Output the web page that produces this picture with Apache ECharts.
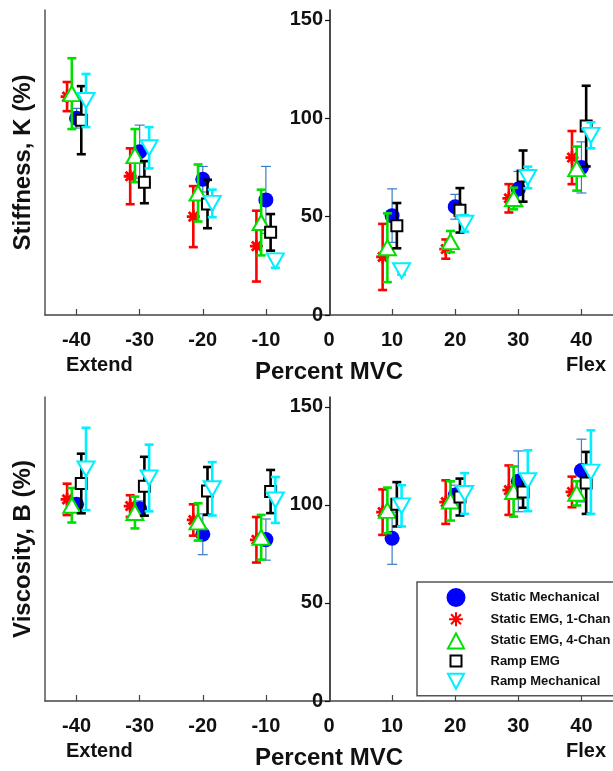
<!DOCTYPE html>
<html>
<head>
<meta charset="utf-8">
<script src="https://cdn.jsdelivr.net/npm/echarts@6/dist/echarts.min.js"></script>
<style>
  html, body { margin: 0; padding: 0; background: #fff; }
  #chart { width: 613px; height: 771px; }
</style>
</head>
<body>
<div id="chart"></div>
<script>
// Contraction levels (percent of maximum voluntary contraction)
const mvc = [-40, -30, -20, -10, 10, 20, 30, 40];
const xTickLabels = [-40, -30, -20, -10, 0, 10, 20, 30, 40];
const yTickLabels = [0, 50, 100, 150];
const seriesNames = ['Static Mechanical', 'Static EMG, 1-Chan', 'Static EMG, 4-Chan', 'Ramp EMG', 'Ramp Mechanical'];

// Stiffness K (%) — means and error half-widths
const stiffStaticMech      = [100, 83, 69, 58.5, 50.5, 55, 64, 75];
const stiffStaticMechErr   = [5, 13.5, 6.5, 17, 13.6, 6.3, 9, 13];
const stiffEmg1            = [111, 70.5, 50, 35, 29.5, 33.5, 59.3, 80];
const stiffEmg1Err         = [7.4, 14.2, 15.5, 18, 16.8, 4.9, 7.2, 13.5];
const stiffEmg4            = [112.5, 81, 62, 47, 34.2, 37.3, 59.2, 74.4];
const stiffEmg4Err         = [18, 13.5, 14.5, 16.7, 17.5, 5.4, 5.5, 11.2];
const stiffRampEmg         = [99, 67.5, 56.4, 42, 45.4, 53.2, 70.6, 96];
const stiffRampEmgErr      = [17.3, 10.7, 12.3, 9.3, 11.5, 11.3, 13, 20.5];
const stiffRampMech        = [109, 85, 56.7, 27.5, 22.5, 46.6, 69.9, 91.3];
const stiffRampMechErr     = [13.5, 10.5, 7, 3.5, 2, 4.2, 5.5, 6.6];

// Viscosity B (%) — means and error half-widths
const viscStaticMech       = [100.3, 98, 85, 82.3, 83, 105, 112, 117.5];
const viscStaticMechErr    = [3, 4, 10.4, 10.5, 13.3, 5, 15.5, 16];
const viscEmg1             = [102.8, 99.4, 92.3, 82.2, 96.3, 101.4, 107.5, 106.6];
const viscEmg1Err          = [8, 5.5, 8, 11.6, 11.6, 11.1, 12.6, 7.8];
const viscEmg4             = [99.8, 96.1, 91.3, 83.5, 97.2, 102, 106.8, 105.9];
const viscEmg4Err          = [8.8, 8.1, 9.5, 11.4, 11.6, 10, 12.8, 6.2];
const viscRampEmg          = [110.9, 109.5, 107.1, 106.8, 100.3, 104, 106.5, 111.2];
const viscRampEmgErr       = [15.2, 15, 12.2, 11, 11.3, 9.4, 8, 15.8];
const viscRampMech         = [118.3, 113.7, 108.2, 102.5, 99.5, 105.8, 112.3, 116.7];
const viscRampMechErr      = [21, 17, 13.6, 11.7, 10.5, 10.4, 15.5, 21.3];

const stiffness = [
  [stiffStaticMech, stiffStaticMechErr], [stiffEmg1, stiffEmg1Err], [stiffEmg4, stiffEmg4Err],
  [stiffRampEmg, stiffRampEmgErr], [stiffRampMech, stiffRampMechErr]
];
const viscosity = [
  [viscStaticMech, viscStaticMechErr], [viscEmg1, viscEmg1Err], [viscEmg4, viscEmg4Err],
  [viscRampEmg, viscRampEmgErr], [viscRampMech, viscRampMechErr]
];

// Per-series drawing style; dodge is a small horizontal shift in x units
const FONT = 'Liberation Sans, Arial, Helvetica, sans-serif';
const ASTERISK = 'path://M5 0L5 10M0 5L10 5M1.5 1.5L8.5 8.5M1.5 8.5L8.5 1.5';
const DOWN_TRIANGLE = 'path://M0 0L10 0L5 9Z';
const styles = [
  { dodge: 0,     symbol: 'circle', size: 15, fill: '#0000ff', stroke: '#0000ff', bw: 0,
    errColor: '#3a7dc4', errWidth: 1.2, cap: 10,
    icon: 'circle' },
  { dodge: -1.5,  symbol: ASTERISK, size: 13, fill: 'none', stroke: '#ff0000', bw: 2.8,
    errColor: '#ff0000', errWidth: 2.6, cap: 9,
    icon: 'path://M0 0M17 17M8.5 1.5L8.5 15.5M1.5 8.5L15.5 8.5M3.5 3.5L13.5 13.5M3.5 13.5L13.5 3.5' },
  { dodge: -0.75, symbol: 'triangle', size: [17, 15], fill: '#ffffff', stroke: '#00e000', bw: 2,
    errColor: '#00e000', errWidth: 2.6, cap: 9,
    icon: 'path://M0 0M17 17M8.5 1L16.5 16L0.5 16Z' },
  { dodge: 0.75,  symbol: 'rect', size: 11, fill: '#ffffff', stroke: '#000000', bw: 2,
    errColor: '#000000', errWidth: 2.6, cap: 9,
    icon: 'path://M0 0M17 17M3 3L14 3L14 14L3 14Z' },
  { dodge: 1.5,   symbol: DOWN_TRIANGLE, size: [17, 15], fill: '#ffffff', stroke: '#00f0ff', bw: 2,
    errColor: '#00f0ff', errWidth: 2.6, cap: 9,
    icon: 'path://M0 0M17 17M0.5 1L16.5 1L8.5 16Z' }
];

function errorBars(gridIdx, yIdx, means, errs, st, k) {
  return {
    type: 'custom',
    name: seriesNames[k] + ' (error)',
    xAxisIndex: gridIdx,
    yAxisIndex: yIdx,
    silent: true,
    z: 2 + k * 2,
    data: mvc.map((x, i) => [x + st.dodge, means[i] - errs[i], means[i] + errs[i]]),
    encode: { x: 0, y: [1, 2] },
    renderItem: function (params, api) {
      const x = api.value(0);
      const lo = api.coord([x, api.value(1)]);
      const hi = api.coord([x, api.value(2)]);
      const h = st.cap / 2;
      const s = { stroke: st.errColor, lineWidth: st.errWidth };
      return {
        type: 'group',
        children: [
          { type: 'line', shape: { x1: lo[0], y1: lo[1], x2: hi[0], y2: hi[1] }, style: s },
          { type: 'line', shape: { x1: lo[0] - h, y1: lo[1], x2: lo[0] + h, y2: lo[1] }, style: s },
          { type: 'line', shape: { x1: hi[0] - h, y1: hi[1], x2: hi[0] + h, y2: hi[1] }, style: s }
        ]
      };
    }
  };
}

function markers(gridIdx, yIdx, means, st, k) {
  return {
    type: 'scatter',
    name: seriesNames[k],
    xAxisIndex: gridIdx,
    yAxisIndex: yIdx,
    z: 3 + k * 2,
    symbol: st.symbol,
    symbolSize: st.size,
    symbolKeepAspect: false,
    itemStyle: { color: st.fill, borderColor: st.stroke, borderWidth: st.bw, opacity: 1 },
    emphasis: { disabled: true },
    data: mvc.map((x, i) => [x + st.dodge, means[i]])
  };
}

const series = [];
[stiffness, viscosity].forEach((panel, g) => {
  panel.forEach(([m, e], k) => {
    series.push(errorBars(g, g * 2, m, e, styles[k], k));
    series.push(markers(g, g * 2, m, styles[k], k));
  });
});

const grids = [
  { left: 45, right: -2, top: 10, height: 305 },
  { left: 45, right: -2, top: 397, height: 306 }
];
// x = 0 sits 285 px right of the grid's left edge (570 px span for -45..45)
const CENTRE_SHIFT = -285;

const xAxes = grids.map((_, g) => ({
  type: 'value', gridIndex: g, min: -45, max: 45,
  name: 'Percent MVC', nameLocation: 'middle', nameGap: 45,
  nameTextStyle: { fontFamily: FONT, fontWeight: 'bold', fontSize: 24, color: '#111' },
  axisLine: { onZero: false, lineStyle: { color: '#444', width: 1.5 } },
  axisTick: { inside: true, length: 6, customValues: mvc, lineStyle: { color: '#444', width: 1.2 } },
  axisLabel: { customValues: xTickLabels, margin: 15, fontFamily: FONT, fontWeight: 'bold', fontSize: 20, color: '#111' },
  splitLine: { show: false }
}));

const yTitles = ['Stiffness, K (%)', 'Viscosity, B (%)'];
const yAxes = [];
grids.forEach((_, g) => {
  // value axis drawn through x = 0
  yAxes.push({
    type: 'value', gridIndex: g, min: 0, max: 155, position: 'left', offset: CENTRE_SHIFT,
    axisLine: { show: true, onZero: false, lineStyle: { color: '#111', width: 1.5 } },
    axisTick: { show: true, length: 5, customValues: yTickLabels, lineStyle: { color: '#111', width: 1.2 } },
    axisLabel: { customValues: yTickLabels, margin: 7, fontFamily: FONT, fontWeight: 'bold', fontSize: 20, color: '#111' },
    splitLine: { show: false }
  });
  // left frame line carrying the axis title
  yAxes.push({
    type: 'value', gridIndex: g, min: 0, max: 155, position: 'left',
    name: yTitles[g], nameLocation: 'middle', nameGap: 10, nameRotate: 90,
    nameTextStyle: { fontFamily: FONT, fontWeight: 'bold', fontSize: 24, color: '#111' },
    axisLine: { show: true, onZero: false, lineStyle: { color: '#555', width: 1.5 } },
    axisTick: { show: false }, axisLabel: { show: false }, splitLine: { show: false }
  });
});

const sideLabel = (text, x, y, align) => ({
  type: 'text', x: x, y: y,
  style: { text: text, fontFamily: FONT, fontWeight: 'bold', fontSize: 20, fill: '#111',
           textAlign: align, textVerticalAlign: 'middle' }
});

const chart = echarts.init(document.getElementById('chart'), null, { renderer: 'canvas' });
chart.setOption({
  animation: false,
  backgroundColor: '#ffffff',
  grid: grids,
  xAxis: xAxes,
  yAxis: yAxes,
  legend: {
    data: seriesNames.map((n, k) => ({ name: n, icon: styles[k].icon })),
    orient: 'vertical',
    left: 417, top: 582,
    padding: [6, 30, 5, 28],
    itemWidth: 17, itemHeight: 17, itemGap: 1.2,
    backgroundColor: '#ffffff',
    borderColor: '#555', borderWidth: 1.5,
    selectedMode: false,
    itemStyle: { borderWidth: 2 },
    textStyle: { fontFamily: FONT, fontWeight: 'bold', fontSize: 13, lineHeight: 15, color: '#111', padding: [0, 0, 0, 21] }
  },
  graphic: [
    sideLabel('Extend', 66, 365, 'left'),
    sideLabel('Flex', 606, 365, 'right'),
    sideLabel('Extend', 66, 751, 'left'),
    sideLabel('Flex', 606, 751, 'right')
  ],
  series: series
});
</script>
</body>
</html>
